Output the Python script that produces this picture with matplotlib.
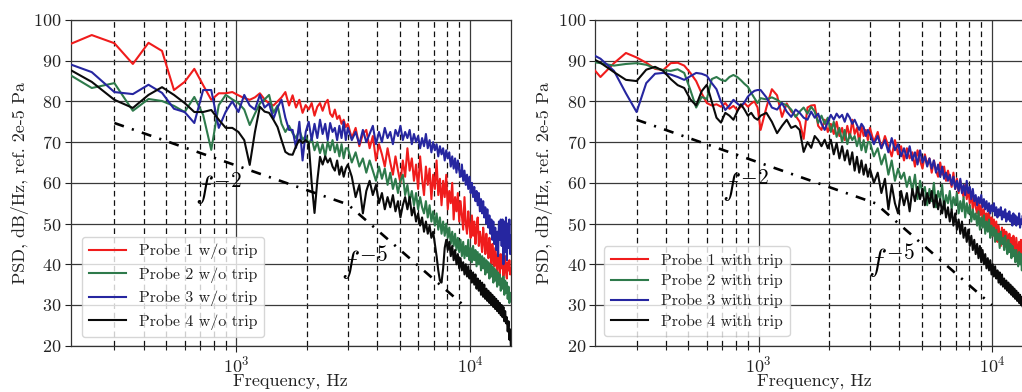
import numpy as np
import matplotlib
matplotlib.use("Agg")
import matplotlib.pyplot as plt
from matplotlib.ticker import FixedLocator, NullFormatter

plt.rcParams['font.family'] = 'serif'
plt.rcParams['font.serif'] = ['cmr10', 'DejaVu Serif']
plt.rcParams['mathtext.fontset'] = 'cm'
plt.rcParams['axes.formatter.use_mathtext'] = True

# ---------------- data ----------------
# FFT bin frequencies (Hz)
freq_left = np.concatenate([np.arange(180, 3000, 60), np.arange(3000, 15001, 120)])
freq_right = np.concatenate([np.arange(180, 1000, 30), np.arange(1020, 3000, 60),
                             np.arange(3000, 15001, 120)])

labels_left = ["Probe 1 w/o trip", "Probe 2 w/o trip", "Probe 3 w/o trip", "Probe 4 w/o trip"]
labels_right = ["Probe 1 with trip", "Probe 2 with trip", "Probe 3 with trip", "Probe 4 with trip"]
colors = ["#f01c1c", "#2e7a4b", "#2626a0", "#0a0a0a"]

left_red = [
    93.3, 96.3, 94.3, 89.2, 94.4, 92.4, 82.8, 84.8, 88.0, 84.0,
    80.4, 82.0, 82.0, 82.3, 81.5, 80.8, 80.4, 81.0, 82.0, 80.5,
    79.5, 79.0, 80.0, 81.0, 82.3, 79.0, 81.5, 78.5, 80.4, 77.2,
    79.1, 78.0, 79.6, 76.5, 78.7, 79.6, 77.7, 79.5, 80.4, 77.0,
    76.2, 78.0, 75.7, 76.5, 74.5, 75.5, 73.7,
    74.5, 71.0, 73.5, 69.0, 72.0, 73.0, 68.5, 71.5, 65.5, 69.5,
    67.0, 64.0, 68.5, 65.0, 62.0, 66.5, 63.0, 60.0, 65.5, 61.5,
    68.5, 63.0, 66.0, 60.5, 64.5, 58.5, 66.5, 61.0, 57.0, 64.0,
    59.5, 63.5, 56.0, 62.0, 58.5, 65.5, 57.0, 61.0, 54.5, 60.5,
    56.5, 62.0, 53.5, 58.0, 55.0, 60.0, 51.0, 56.5, 53.0, 57.5,
    50.5, 55.5, 52.0, 48.5, 56.5, 50.0, 47.5, 53.0, 49.5, 46.5,
    52.0, 47.0, 50.5, 45.0, 49.0, 51.5, 44.5, 48.0, 46.0, 43.0,
    49.0, 45.5, 42.5, 47.5, 44.0, 41.5, 46.5, 43.0, 40.0, 45.0,
    42.0, 39.5, 44.0, 41.0, 38.0, 43.5, 40.5, 37.5, 42.5, 39.0,
    41.5, 37.0, 40.0, 42.0, 38.0, 36.5, 40.5, 38.5, 41.0, 37.5,
    39.0]

left_green = [
    87.6, 83.3, 84.5, 77.7, 80.6, 80.1, 78.9, 77.4, 81.1, 76.7,
    68.1, 79.1, 81.6, 80.5, 79.6, 78.0, 74.2, 77.0, 79.5, 80.5,
    81.6, 77.2, 79.0, 74.5, 72.5, 74.0, 72.2, 71.0, 73.0, 70.6,
    71.5, 69.5, 71.0, 68.0, 70.0, 67.3, 69.5, 66.5, 70.1, 68.0,
    70.5, 67.5, 69.5, 66.5, 69.5, 66.0, 68.5,
    68.5, 65.0, 67.5, 64.0, 66.0, 62.5, 65.5, 63.0, 60.5, 64.0,
    61.0, 63.5, 59.5, 62.5, 58.5, 61.0, 57.5, 60.5, 62.0, 57.0,
    59.5, 55.5, 58.0, 54.5, 57.5, 53.5, 56.5, 54.0, 52.5, 55.5,
    51.5, 54.5, 50.5, 53.0, 49.5, 52.5, 48.5, 51.5, 47.5, 50.5,
    47.0, 50.0, 46.5, 49.0, 45.0, 48.0, 44.5, 47.5, 43.5, 46.5,
    43.0, 46.0, 42.0, 45.5, 41.5, 44.5, 42.0, 46.0, 41.0, 44.0,
    40.5, 44.5, 41.0, 43.5, 39.5, 43.0, 40.0, 42.5, 38.5, 42.0,
    39.0, 41.5, 37.5, 41.0, 38.0, 40.5, 36.5, 40.0, 37.0, 39.5,
    35.5, 39.0, 36.0, 38.5, 34.5, 38.0, 35.0, 37.5, 33.5, 36.5,
    34.0, 37.0, 32.5, 36.0, 33.0, 35.5, 31.5, 34.5, 30.5, 33.0,
    31.0]

left_blue = [
    89.8, 87.2, 82.3, 81.8, 84.1, 82.1, 78.2, 77.4, 74.7, 82.8,
    82.8, 73.5, 77.5, 80.0, 77.4, 81.6, 79.0, 78.0, 81.6, 78.5,
    79.5, 75.7, 78.5, 80.4, 76.0, 73.0, 73.0, 68.6, 75.0, 65.5,
    72.5, 75.0, 70.5, 74.5, 71.0, 75.5, 72.0, 74.5, 70.5, 74.7,
    72.5, 73.5, 70.5, 74.0, 71.0, 75.0, 70.5,
    73.5, 70.5, 72.5, 69.5, 73.0, 70.0, 72.0, 74.0, 69.5, 72.5,
    70.0, 73.5, 71.0, 72.5, 69.5, 73.0, 71.5, 74.0, 70.5, 72.5,
    71.0, 73.0, 69.5, 72.0, 70.0, 71.5, 68.5, 71.0, 69.0, 72.0,
    68.5, 70.5, 67.5, 70.0, 68.0, 69.5, 66.5, 69.0, 67.0, 68.5,
    65.5, 68.0, 66.0, 67.5, 64.0, 66.5, 63.5, 66.0, 62.5, 65.5,
    63.0, 61.5, 64.5, 60.5, 63.0, 59.5, 62.0, 58.5, 61.5, 57.5,
    60.0, 56.5, 59.0, 55.5, 58.0, 54.5, 57.5, 53.0, 56.0, 52.5,
    55.5, 51.5, 54.0, 50.0, 53.5, 49.0, 52.0, 47.5, 51.0, 46.0,
    50.5, 45.0, 49.0, 43.5, 48.0, 42.0, 50.5, 46.0, 51.0, 44.5,
    51.0, 40.0, 50.5, 43.0, 51.5, 41.0, 50.0, 44.0, 51.0, 42.5,
    47.0]

left_black = [
    88.8, 84.8, 80.4, 78.4, 81.6, 83.5, 81.6, 79.6, 77.4, 77.4,
    77.9, 75.5, 73.5, 73.5, 72.5, 70.5, 64.4, 72.5, 78.7, 77.5,
    77.2, 75.5, 73.7, 70.5, 67.6, 67.0, 66.9, 69.0, 70.6, 69.8,
    70.5, 69.8, 60.0, 52.6, 60.5, 66.4, 64.5, 66.5, 65.0, 66.0,
    64.0, 63.0, 65.5, 62.0, 64.0, 61.5, 63.5,
    64.5, 61.5, 56.5, 59.5, 52.5, 58.0, 60.5, 57.0, 59.5, 55.0,
    57.5, 53.5, 56.5, 54.0, 57.0, 53.0, 55.5, 51.5, 54.5, 56.5,
    53.5, 56.5, 52.0, 54.0, 50.5, 52.5, 49.5, 51.5, 48.0, 50.5,
    47.5, 49.5, 46.5, 48.0, 45.0, 42.0, 38.5, 36.0, 35.5, 39.0,
    44.0, 46.0, 43.5, 45.5, 42.0, 44.5, 41.0, 43.5, 40.0, 42.5,
    39.0, 41.5, 38.5, 40.5, 37.5, 40.0, 37.0, 39.5, 36.5, 38.5,
    35.5, 38.0, 35.0, 37.5, 34.0, 36.5, 33.5, 36.0, 32.5, 35.5,
    32.0, 35.0, 31.5, 34.0, 31.0, 33.5, 30.5, 33.0, 30.0, 32.5,
    29.5, 32.0, 29.0, 31.5, 28.5, 31.0, 28.0, 30.5, 27.5, 30.0,
    27.0, 29.5, 26.0, 28.5, 25.5, 27.0, 23.5, 26.0, 21.5, 24.0,
    19.0]

right_red = [
    90.5, 86.0, 89.4, 91.9, 90.8, 89.5, 88.0, 87.7, 89.4, 89.5,
    88.8, 87.0, 85.0, 82.0, 79.6, 79.0, 79.3, 78.7, 79.6, 78.2,
    78.9, 77.9, 78.7, 79.6, 78.7, 79.5, 80.0, 78.5,
    73.0, 78.5, 83.0, 81.5, 76.2, 79.5, 77.5, 76.5, 75.0, 70.8,
    78.5, 79.0, 79.1, 74.0, 73.0, 75.5, 72.5, 74.5, 72.0, 75.0,
    71.5, 73.5, 70.5, 74.0, 71.0, 75.5, 72.0, 73.5, 70.0, 74.0,
    71.5, 73.0, 70.5,
    73.5, 70.0, 72.5, 68.5, 71.5, 69.0, 66.5, 70.5, 67.0, 69.0,
    65.5, 68.5, 66.0, 67.5, 64.0, 68.0, 65.5, 63.5, 67.0, 64.5,
    66.0, 62.5, 65.5, 63.0, 61.5, 65.0, 62.0, 64.0, 60.5, 63.0,
    61.0, 59.0, 62.5, 58.5, 61.0, 57.5, 60.5, 58.0, 56.5, 59.5,
    56.0, 58.5, 55.0, 57.5, 53.5, 56.5, 54.0, 52.5, 55.5, 52.0,
    54.5, 51.0, 53.5, 50.5, 52.5, 49.0, 53.0, 48.5, 51.5, 47.0,
    51.0, 46.5, 50.5, 45.5, 49.5, 47.0, 44.5, 49.0, 46.0, 48.5,
    44.5, 48.0, 46.5, 43.5, 47.5, 44.0, 46.5, 43.0, 47.0, 45.0,
    42.5, 46.5, 44.0, 41.5, 45.5, 43.0, 46.0, 42.5, 44.5, 41.0,
    45.0, 42.0, 44.0, 40.5, 43.5, 41.5, 44.0, 40.0, 42.5, 41.0,
    43.0]

right_green = [
    90.0, 89.4, 88.8, 89.2, 89.4, 89.0, 88.2, 87.7, 87.5, 87.9,
    87.0, 82.8, 78.5, 81.1, 80.6, 85.5, 86.0, 85.3, 85.0, 86.0,
    86.5, 86.0, 85.2, 84.3, 83.6, 82.1, 80.8, 79.6,
    80.8, 80.5, 81.0, 80.4, 79.5, 79.1, 78.0, 76.2, 77.5, 78.5,
    77.0, 78.7, 77.5, 74.7, 76.5, 74.5, 76.0, 72.5, 75.0, 71.3,
    73.5, 70.0, 73.0, 69.5, 72.0, 70.5, 71.5, 69.0, 71.0, 68.0,
    70.5, 67.5, 70.0,
    70.0, 66.5, 68.5, 64.5, 67.0, 62.0, 65.5, 60.5, 63.5, 61.0,
    62.5, 59.0, 61.5, 58.0, 62.0, 56.0, 60.5, 57.5, 59.0, 54.5,
    58.5, 55.5, 60.0, 54.0, 58.0, 56.0, 59.5, 53.5, 57.0, 55.0,
    58.0, 53.5, 56.5, 54.5, 57.5, 52.5, 55.5, 53.0, 56.5, 51.5,
    55.0, 52.5, 54.5, 50.5, 53.5, 51.0, 52.5, 49.5, 53.0, 48.5,
    51.5, 49.0, 52.0, 47.5, 50.5, 48.0, 51.0, 46.5, 49.5, 47.0,
    49.0, 45.5, 48.5, 46.0, 47.5, 44.0, 48.0, 45.0, 46.5, 43.5,
    47.0, 44.5, 42.5, 46.0, 43.0, 45.0, 41.5, 44.5, 42.0, 43.5,
    40.5, 43.5, 41.5, 39.5, 43.0, 40.0, 42.5, 38.5, 41.5, 39.0,
    41.0, 38.0, 40.5, 37.5, 40.0, 38.5, 39.5, 37.0, 40.0, 38.0,
    39.5]

right_blue = [
    92.5, 90.5, 87.5, 82.0, 77.4, 84.5, 86.8, 87.0, 86.6, 86.0,
    85.3, 86.2, 87.0, 86.8, 86.3, 84.5, 83.0, 79.9, 77.9, 79.0,
    80.4, 79.5, 78.8, 79.8, 81.2, 82.0, 82.6, 82.8,
    82.8, 81.0, 78.5, 78.0, 79.6, 77.5, 76.2, 78.0, 77.2, 76.0,
    75.5, 77.5, 76.0, 77.0, 74.5, 73.0, 75.0, 76.7, 75.5, 77.0,
    76.0, 76.7, 75.0, 77.0, 76.0, 74.5, 75.5, 74.2, 73.0, 74.5,
    73.7, 71.5, 73.0,
    72.0, 69.5, 71.5, 68.5, 70.5, 67.5, 71.0, 68.0, 69.5, 66.5,
    68.5, 66.0, 69.0, 65.5, 67.5, 64.5, 68.0, 65.0, 66.5, 64.0,
    66.0, 63.5, 65.5, 62.5, 64.5, 61.5, 64.0, 61.0, 62.5, 60.5,
    62.0, 59.5, 61.5, 58.5, 60.5, 58.0, 61.0, 57.5, 59.5, 57.0,
    60.5, 57.5, 59.0, 56.0, 58.5, 55.5, 57.0, 54.5, 56.5, 55.0,
    57.0, 54.0, 56.0, 53.5, 55.5, 53.0, 55.0, 52.5, 54.5, 53.0,
    55.0, 52.0, 54.0, 51.5, 53.5, 52.0, 54.0, 51.0, 53.0, 51.5,
    53.5, 50.5, 52.5, 51.0, 53.0, 50.5, 52.0, 49.5, 52.5, 50.0,
    52.0, 49.5, 51.5, 50.0, 52.5, 49.0, 51.0, 50.0, 52.0, 49.5,
    51.5, 48.5, 51.0, 49.5, 50.5, 48.0, 50.5, 49.0, 50.0, 48.5,
    49.5]

right_black = [
    91.5, 89.5, 87.2, 85.3, 85.0, 87.8, 88.5, 87.5, 85.5, 84.0,
    83.3, 80.5, 79.0, 82.5, 84.1, 80.0, 76.0, 74.8, 77.2, 76.5,
    75.5, 77.5, 79.3, 78.0, 76.5, 77.2, 76.0, 75.5,
    76.5, 77.2, 75.0, 72.2, 74.0, 75.5, 73.5, 74.0, 73.0, 67.6,
    70.0, 68.6, 71.5, 70.5, 69.0, 70.6, 68.5, 70.6, 67.0, 69.8,
    66.0, 69.0, 65.5, 68.0, 64.5, 67.5, 63.0, 66.4, 62.5, 65.5,
    62.0, 64.5, 61.5,
    63.5, 60.0, 62.5, 57.5, 61.0, 53.5, 59.5, 55.0, 52.5, 58.0,
    54.5, 57.5, 53.0, 58.5, 55.5, 59.0, 56.0, 58.5, 54.5, 57.5,
    55.0, 58.0, 54.0, 57.0, 53.5, 56.0, 52.5, 55.5, 51.5, 54.0,
    50.5, 53.5, 49.5, 52.5, 48.5, 51.0, 47.5, 50.5, 46.5, 49.0,
    45.5, 48.5, 44.5, 47.0, 43.5, 46.0, 42.5, 45.0, 41.5, 44.5,
    40.5, 43.5, 40.0, 42.5, 39.0, 41.5, 38.5, 41.0, 37.5, 40.0,
    37.0, 39.5, 36.5, 38.5, 35.5, 38.0, 35.0, 37.5, 34.5, 36.5,
    34.0, 36.0, 33.5, 35.5, 33.0, 35.0, 32.5, 34.5, 32.0, 34.0,
    31.5, 33.5, 31.0, 33.0, 30.5, 32.5, 30.0, 32.0, 29.5, 31.5,
    29.0, 31.0, 28.5, 30.5, 28.0, 30.0, 27.5, 29.5, 27.0, 29.0,
    28.0]

# power-law guide lines (f^-2 then f^-5)
guide_left_f = [300, 3000, 9500]
guide_left_v = [74.7, 54.7, 29.7]
guide_right_f = [300, 3162, 10000]
guide_right_v = [75.5, 55.0, 30.0]

y_ticks = [20, 30, 40, 50, 60, 70, 80, 90, 100]
x_major = [1e3, 1e4]
x_minor = [300, 400, 500, 600, 700, 800, 900, 2000, 3000, 4000, 5000, 6000, 7000, 8000, 9000]

# ---------------- figure ----------------
W, H = 1022, 392
fig = plt.figure(figsize=(W / 100, H / 100), dpi=100)


def place(x0, x1, y0, y1):
    return [x0 / W, 1 - y1 / H, (x1 - x0) / W, (y1 - y0) / H]


axL = fig.add_axes(place(70.7, 511, 20, 345.7))
axR = fig.add_axes(place(595, 1033, 20, 345.7))

panels = [
    (axL, freq_left, [left_red, left_green, left_blue, left_black], labels_left,
     (195, 15000), guide_left_f, guide_left_v,
     [(665, 58.6, r"$f^{-2}$"), (2800, 40.1, r"$f^{-5}$")], (0.0257, 0.0267), 0.5),
    (axR, freq_right, [right_red, right_green, right_blue, right_black], labels_right,
     (199, 15000), guide_right_f, guide_right_v,
     [(700, 59.3, r"$f^{-2}$"), (2930, 40.7, r"$f^{-5}$")], (0.0205, 0.030), 0.38),
]

for ax, fr, series, labels, xlim, gf, gv, texts, lpos, lspace in panels:
    ax.set_xscale('log')
    for vals, lab, col in zip(series, labels, colors):
        n = min(len(fr), len(vals))
        ax.plot(fr[:n], vals[:n], color=col, lw=1.5, label=lab, zorder=3)
    ax.plot(gf, gv, color='black', lw=1.9, dashes=(3.8, 3.2, 0.8, 3.2), zorder=4)
    for tx, ty, s in texts:
        ax.text(tx, ty, s, fontsize=22, ha='left', va='center', zorder=5)
    ax.set_xlim(*xlim)
    ax.set_ylim(20, 100)
    ax.yaxis.set_major_locator(FixedLocator(y_ticks))
    ax.xaxis.set_major_locator(FixedLocator(x_major))
    ax.xaxis.set_minor_locator(FixedLocator(x_minor))
    ax.xaxis.set_minor_formatter(NullFormatter())
    ax.grid(True, which='major', axis='both', color='#3a3a3a', lw=0.9, ls='-', zorder=1)
    ax.grid(True, which='minor', axis='x', color='#111111', lw=0.9, dashes=(4.5, 3.0), zorder=1)
    ax.tick_params(which='both', direction='out', labelsize=13, colors='#222222',
                   width=0.8)
    ax.tick_params(which='major', length=4, pad=2.5)
    ax.tick_params(which='minor', length=3)
    for sp in ax.spines.values():
        sp.set_color('#333333')
        sp.set_linewidth(0.9)
    ax.set_xlabel("Frequency, Hz", fontsize=13, color='#222222', labelpad=-1)
    ax.set_ylabel("PSD, dB/Hz, ref. 2e-5 Pa", fontsize=13, color='#222222', labelpad=3)
    leg = ax.legend(loc='lower left', bbox_to_anchor=lpos, borderaxespad=0,
                    fontsize=11.5, handlelength=2.3, handletextpad=0.8,
                    labelspacing=lspace, framealpha=0.8, edgecolor='#cccccc',
                    borderpad=0.45)
    for t in leg.get_texts():
        t.set_color('#222222')

fig.savefig("out.png", dpi=100)
